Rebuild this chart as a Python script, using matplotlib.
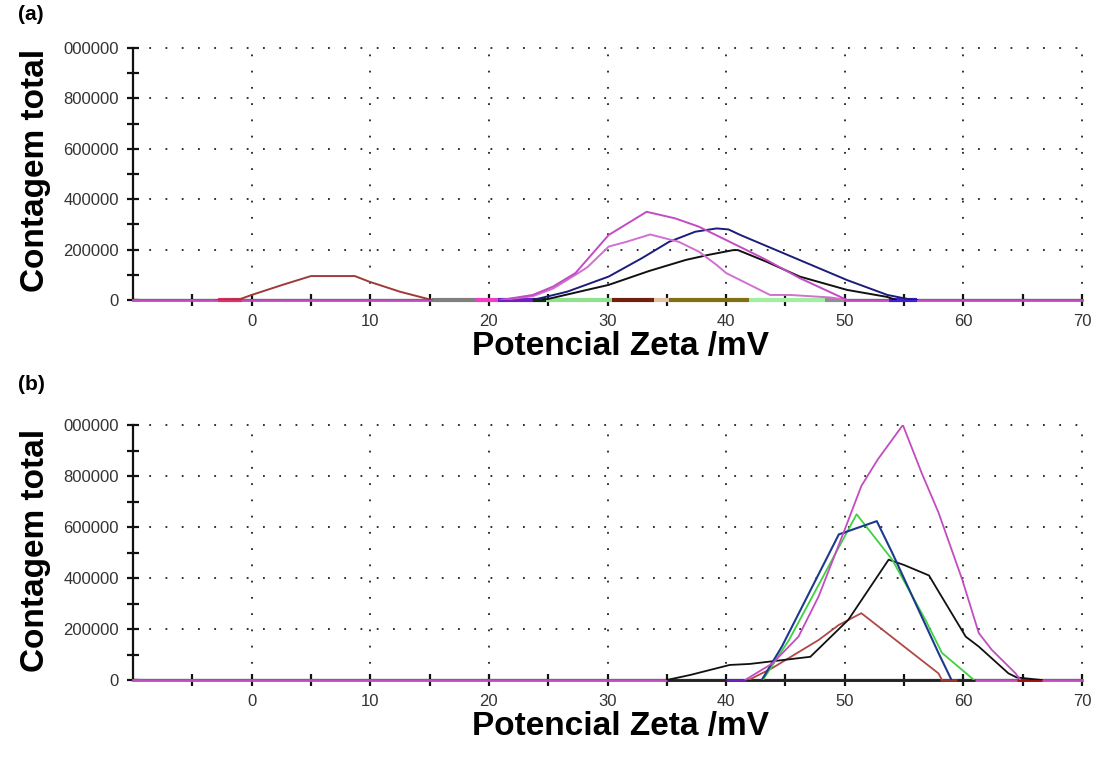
import matplotlib
matplotlib.use("Agg")
import matplotlib.pyplot as plt
from matplotlib.ticker import MultipleLocator, FixedLocator

plt.rcParams['font.family'] = ['Liberation Sans Narrow', 'Liberation Sans', 'DejaVu Sans']

# ---------------- data: panel (a) ----------------
a_brown_x = [-3, -1, 0, 2.6, 5, 8.7, 9.9, 12.5, 15.2]
a_brown_y = [0, 3000, 20000, 60000, 95000, 95000, 73000, 33000, 0]

a_mag1_x = [21, 23.7, 25.4, 27.3, 30.1, 33.3, 35.7, 37.7, 40, 43.4, 46.2, 50.2]
a_mag1_y = [0, 20000, 53000, 107000, 258000, 350000, 324000, 291000, 238000, 159000, 87000, 0]

a_mag2_x = [21, 23.7, 25.4, 27.3, 28.3, 30.1, 31.6, 33.6, 36, 37.7, 39.2, 40, 43.7, 45.4, 48.8, 50.2]
a_mag2_y = [0, 15000, 45000, 100000, 130000, 212000, 231000, 260000, 231000, 192000, 139000, 107000,
            20000, 20000, 10000, 0]

a_blue_x = [23.7, 26.6, 30.1, 32.9, 35.2, 37.4, 39.2, 40.2, 41.2, 50.2, 53.6, 55.3, 56.1]
a_blue_y = [0, 33000, 93000, 166000, 231000, 271000, 284000, 280000, 258000, 79000, 20000, 4000, 0]

a_black_x = [24.6, 30.1, 33.5, 36.6, 38.5, 40.6, 41, 43.4, 46.2, 50.2, 53.6, 54.3]
a_black_y = [0, 60000, 115000, 159000, 179000, 198000, 198000, 152000, 93000, 40000, 12000, 0]

# zero-count stretches of the other runs lying on the baseline
a_seg_start = [-2.8, 15.2, 18.9, 20.8, 23.7, 24.8, 30.4, 33.9, 35.2, 41.9, 48.3, 53.7]
a_seg_end = [-0.8, 18.9, 20.8, 23.7, 24.8, 30.4, 33.9, 35.2, 41.9, 48.3, 49.9, 56.1]
a_seg_color = ['#e0306a', '#808080', '#f040c0', '#7020c0', '#103010', '#90e090',
               '#702010', '#e0c0a0', '#807010', '#a0f0a0', '#909090', '#4020d0']

# ---------------- data: panel (b) ----------------
b_mag_x = [41.6, 43.9, 46.1, 47.8, 50.0, 51.4, 52.8, 54.9, 56.5, 57.9, 59.9, 61.3, 62.4, 64.4, 64.8]
b_mag_y = [0, 65000, 170000, 328000, 590000, 761000, 866000, 1000000, 810000, 657000, 394000,
           184000, 118000, 26000, 0]

b_green_x = [43.1, 45.3, 51.0, 54.0, 56.8, 58.2, 60.9]
b_green_y = [0, 157000, 650000, 472000, 236000, 106000, 0]

b_blue_x = [43.0, 44.7, 49.5, 50.3, 52.7, 54.0, 57.9, 59.0]
b_blue_y = [0, 131000, 571000, 584000, 623000, 499000, 106000, 0]

b_black_x = [35, 37, 40.3, 42, 47.1, 50.3, 53.7, 55, 57.1, 58, 60.2, 61.3, 63.8, 64.5, 66.6]
b_black_y = [0, 20000, 59000, 63000, 91000, 236000, 472000, 451000, 410000, 340000, 170000,
             131000, 26000, 10000, 0]

b_brown_x = [41.9, 43.9, 47.8, 49.5, 51.4, 57.9, 58.2]
b_brown_y = [0, 47000, 157000, 216000, 262000, 26000, 0]

b_seg_start = [35, 40, 58, 64.5]
b_seg_end = [61, 41.7, 59.5, 66.6]
b_seg_color = ['#222222', '#7020c0', '#a03030', '#a01010']

x_ticks = [0, 10, 20, 30, 40, 50, 60, 70]
x_ticklabels = ['0', '10', '20', '30', '40', '50', '60', '70']
y_ticks = [0, 200000, 400000, 600000, 800000, 1000000]
y_ticklabels = ['0', '200000', '400000', '600000', '800000', '000000']

W, H = 1097, 758
fig = plt.figure(figsize=(W / 100, H / 100), dpi=100)

MAG = '#c24cc2'
MAG2 = '#d070d0'


def style_axes(ax):
    ax.set_xlim(-10, 70)
    ax.set_ylim(0, 1000000)
    for s in ('top', 'right'):
        ax.spines[s].set_visible(False)
    for s in ('left', 'bottom'):
        ax.spines[s].set_linewidth(1.6)
        ax.spines[s].set_color('#111111')
    ax.xaxis.set_major_locator(FixedLocator(x_ticks))
    ax.set_xticklabels(x_ticklabels)
    ax.xaxis.set_minor_locator(FixedLocator([-5, 5, 15, 25, 35, 45, 55, 65]))
    ax.yaxis.set_major_locator(FixedLocator(y_ticks))
    ax.set_yticklabels(y_ticklabels)
    ax.yaxis.set_minor_locator(MultipleLocator(100000))
    ax.tick_params(axis='both', which='both', direction='inout', length=8, width=1.6,
                   color='#111111', labelsize=12, labelcolor='#333333')
    ax.tick_params(axis='x', which='both', pad=6)
    ax.tick_params(axis='y', which='both', pad=6)
    # dotted grid
    for xv in x_ticks:
        ax.plot([xv, xv], [0, 1000000], color='#222222', lw=1.3,
                linestyle=(0, (1, 8)), zorder=1, clip_on=False)
    for yv in y_ticks[1:]:
        ax.plot([-10, 70], [yv, yv], color='#222222', lw=1.3,
                linestyle=(0, (1, 8)), zorder=1, clip_on=False)
    ax.patch.set_alpha(0)


def draw_segments(ax, starts, ends, colors, lw=3):
    for s, e, c in zip(starts, ends, colors):
        ax.plot([s, e], [0, 0], color=c, lw=lw, solid_capstyle='butt', zorder=4, clip_on=False)


# ---------------- panel (a) ----------------
ax1 = fig.add_axes([133 / W, 1 - 300 / H, 949 / W, 252 / H])
style_axes(ax1)
ax1.plot([-10, 70], [0, 0], color=MAG, lw=2, zorder=3, clip_on=False)
draw_segments(ax1, a_seg_start, a_seg_end, a_seg_color)
ax1.plot(a_brown_x, a_brown_y, color='#a03a3a', lw=1.4, zorder=5)
ax1.plot(a_blue_x, a_blue_y, color='#1c1c7a', lw=1.4, zorder=5)
ax1.plot(a_black_x, a_black_y, color='#111111', lw=1.4, zorder=5)
ax1.plot(a_mag2_x, a_mag2_y, color=MAG2, lw=1.4, zorder=6)
ax1.plot(a_mag1_x, a_mag1_y, color=MAG, lw=1.4, zorder=6)

# ---------------- panel (b) ----------------
ax2 = fig.add_axes([133 / W, 1 - 680 / H, 949 / W, 255 / H])
style_axes(ax2)
ax2.plot([-10, 70], [0, 0], color=MAG, lw=2, zorder=3, clip_on=False)
draw_segments(ax2, b_seg_start, b_seg_end, b_seg_color, lw=2)
ax2.plot(b_brown_x, b_brown_y, color='#b04848', lw=1.3, zorder=5)
ax2.plot(b_black_x, b_black_y, color='#111111', lw=1.3, zorder=5)
ax2.plot(b_green_x, b_green_y, color='#40d040', lw=1.3, zorder=5)
ax2.plot(b_blue_x, b_blue_y, color='#1c3a8c', lw=1.5, zorder=6)
ax2.plot(b_mag_x, b_mag_y, color=MAG, lw=1.3, zorder=6)

# ---------------- labels ----------------
BOLD = ['Liberation Sans', 'DejaVu Sans']
for ycen, tag, ytag, xlab_top in ((170, '(a)', 15, 331), (550, '(b)', 385, 711)):
    fig.text(36 / W, 1 - ycen / H, 'Contagem total', rotation=90, ha='center', va='center',
             fontsize=24, fontweight='bold', family=BOLD)
    fig.text(18 / W, 1 - ytag / H, tag, ha='left', va='center', fontsize=15,
             fontweight='bold', family=BOLD)
    fig.text(621 / W, 1 - xlab_top / H, 'Potencial Zeta /mV', ha='center', va='top',
             fontsize=24, fontweight='bold', family=BOLD)

fig.savefig('out.png', dpi=100, facecolor='white')
